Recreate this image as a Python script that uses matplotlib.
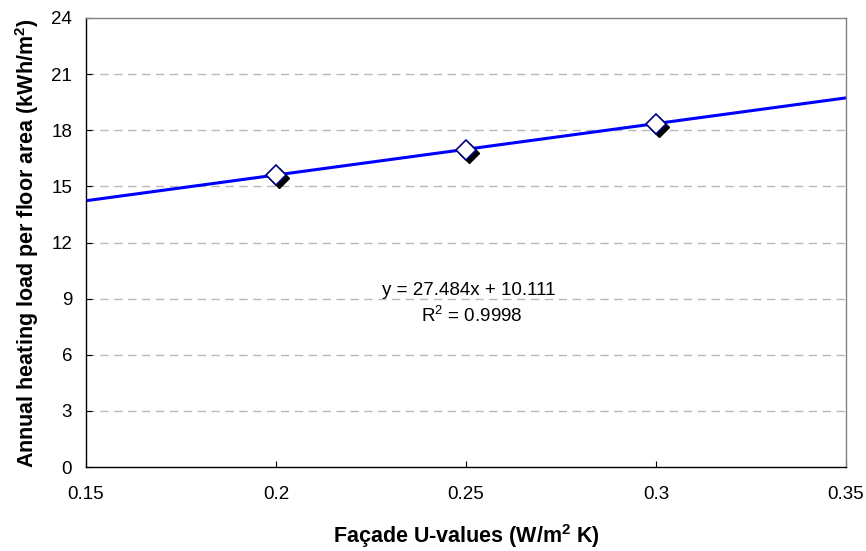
import matplotlib
matplotlib.use("Agg")
import matplotlib.pyplot as plt
import matplotlib.transforms as mtransforms
import numpy as np

plt.rcParams['font.family'] = ['Liberation Sans', 'DejaVu Sans']
plt.rcParams['mathtext.fontset'] = 'custom'
plt.rcParams['mathtext.rm'] = 'Liberation Sans'
plt.rcParams['mathtext.bf'] = 'Liberation Sans:bold'

# Façade U-values and simulated annual heating load
u_values = [0.2, 0.25, 0.3]
heating_load = [15.62, 16.97, 18.36]

# Linear trend line coefficients
slope = 27.484
intercept = 10.111
r_squared = 0.9998

x_ticks = [0.15, 0.2, 0.25, 0.3, 0.35]
x_tick_labels = ["0.15", "0.2", "0.25", "0.3", "0.35"]
y_ticks = [0, 3, 6, 9, 12, 15, 18, 21, 24]

W, H = 866, 551
fig = plt.figure(figsize=(W / 100, H / 100), dpi=100)
ax = fig.add_axes([86 / W, 1 - 467 / H, (846 - 86) / W, (467 - 18) / H])

ax.set_xlim(0.15, 0.35)
ax.set_ylim(0, 24)

# dashed horizontal gridlines
for yv in y_ticks[1:-1]:
    ax.axhline(yv, color="#b8b8b8", lw=1.0, dashes=(6, 4), zorder=0)

# trend line over the full axis range
xl = np.array([0.15, 0.35])
ax.plot(xl, slope * xl + intercept, color="#0000ff", lw=2.2, zorder=2)

# markers with a dark drop shadow
shadow = mtransforms.offset_copy(ax.transData, fig=fig, x=3, y=-3, units="dots")
ax.plot(u_values, heating_load, linestyle="none", marker="D", ms=10,
        mfc="black", mec="black", transform=shadow, zorder=3)
ax.plot(u_values, heating_load, linestyle="none", marker="D", ms=10,
        mfc="white", mec="#000080", mew=1.2, zorder=4)

ax.text(0.2508, 9.45, f"y = {slope}x + {intercept}", ha="center", va="center",
        fontsize=13.5)
ax.text(0.2515, 8.1, f"R$^2$ = {r_squared}", ha="center", va="center", fontsize=13.5)

ax.set_xticks(x_ticks)
ax.set_xticklabels(x_tick_labels)
ax.set_yticks(y_ticks)
ax.tick_params(axis="x", direction="in", length=4.5, pad=14, labelsize=13.5)
ax.tick_params(axis="y", direction="in", length=4.5, pad=10, labelsize=13.5)

for name, s in ax.spines.items():
    s.set_linewidth(1.0)
    s.set_color("black" if name in ("left", "bottom") else "#808080")

ax.set_xlabel("Façade U-values (W/m$^\\mathbf{2}$ K)", fontsize=15.5, fontweight="bold")
ax.set_ylabel("Annual heating load per floor area (kWh/m$^\\mathbf{2}$)", fontsize=15.5,
              fontweight="bold")
ax.xaxis.set_label_coords(0.5, (467 - 536) / 449)
ax.xaxis.label.set_va("center")
ax.yaxis.set_label_coords((27 - 86) / 760, (467 - 243) / 449)
ax.yaxis.label.set_va("center")
ax.yaxis.label.set_ha("center")

fig.savefig("out.png", dpi=100)
